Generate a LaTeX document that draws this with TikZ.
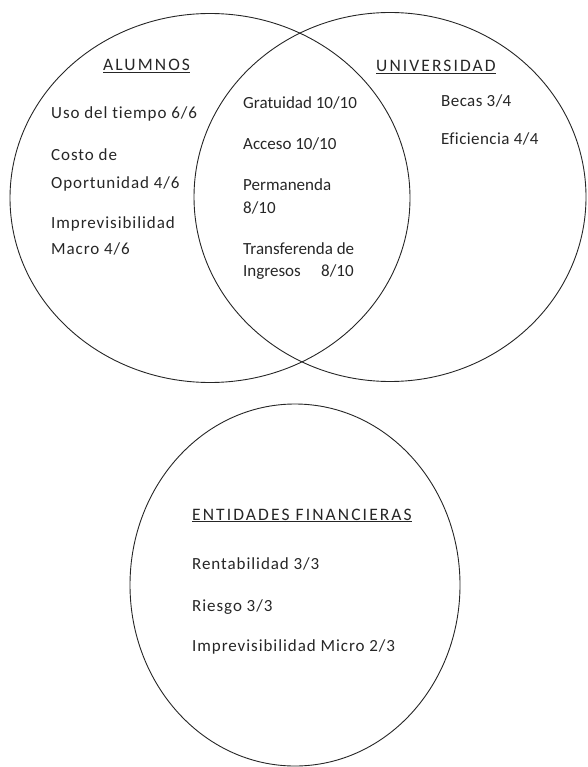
\documentclass[tikz,border=0pt]{standalone}
\usepackage{fontspec}
\setmainfont[Ligatures={NoCommon}]{Carlito}
\newfontfamily\spreadA[LetterSpace=5.5,Ligatures={NoCommon}]{Carlito}
\newfontfamily\spreadB[LetterSpace=2.5,Ligatures={NoCommon}]{Carlito}
\newfontfamily\spreadCap[LetterSpace=12,Ligatures={NoCommon}]{Carlito}
\usetikzlibrary{shapes.geometric}
\tikzset{
  venn/.style={draw=black!85, line width=0.9pt, ellipse, inner sep=0pt},
  lbl/.style={anchor=base west, inner sep=0pt, font=\fontsize{17}{20}\selectfont, text=black!85},
  lblA/.style={lbl, font=\spreadA\fontsize{17}{20}\selectfont},
  lblB/.style={lbl, font=\spreadB\fontsize{17}{20}\selectfont},
  head/.style={lbl, font=\spreadCap\fontsize{17.5}{20}\selectfont},
}
\begin{document}
\begin{tikzpicture}[x=1pt,y=-1pt]
\useasboundingbox (0,0) rectangle (587,767);
\node[venn, minimum width=400pt, minimum height=369pt] (alumnos) at (210,198) {};
\node[venn, minimum width=392pt, minimum height=369pt] (univ) at (390,197) {};
\node[venn, minimum width=330pt, minimum height=362pt] (ent) at (295,585) {};
% ALUMNOS
\node[head] (t1) at (103,71) {\underline{ALUMNOS}};
\node[lblA] (t2) at (51,119) {Uso del tiempo 6/6};
\node[lblA] (t3) at (51,161) {Costo de};
\node[lblA] (t4) at (51,189) {Oportunidad 4/6};
\node[lblA] (t5) at (51,229) {Imprevisibilidad};
\node[lblA] (t6) at (51,254) {Macro 4/6};
% intersection
\node[lbl] (t7) at (243,109) {Gratuidad 10/10};
\node[lbl] (t8) at (243,150) {Acceso 10/10};
\node[lbl] (t9) at (243,191) {Permanenda};
\node[lbl] (t10) at (243,214) {8/10};
\node[lbl] (t11) at (243,254) {Transferenda de};
\node[lbl] (t12) at (243,276) {Ingresos\hspace{1.2em}8/10};
% UNIVERSIDAD
\node[head] (t13) at (376,72) {\underline{UNIVERSIDAD}};
\node[lblB] (t14) at (441,107) {Becas 3/4};
\node[lblB] (t15) at (441,145) {Eficiencia 4/4};
% ENTIDADES
\node[head] (t16) at (192,520) {\underline{ENTIDADES FINANCIERAS}};
\node[lblA] (t17) at (192,569) {Rentabilidad 3/3};
\node[lblA] (t18) at (192,611) {Riesgo 3/3};
\node[lblA] (t19) at (192,651) {Imprevisibilidad Micro 2/3};
\end{tikzpicture}
\end{document}
